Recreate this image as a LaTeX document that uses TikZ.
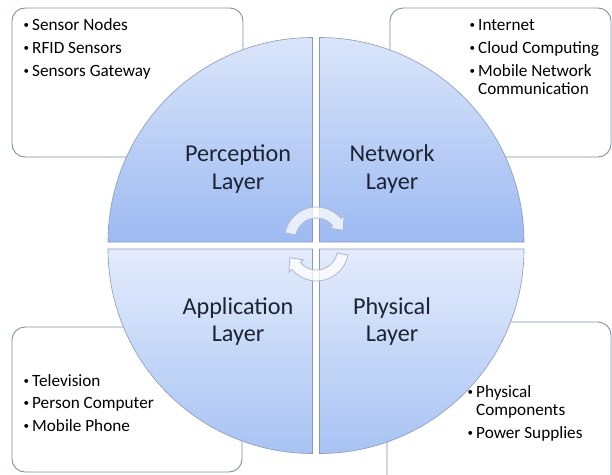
\documentclass[tikz,border=0pt]{standalone}
\usepackage{fontspec}
\setmainfont{Carlito}
\usetikzlibrary{positioning}
\definecolor{iotbox}{HTML}{7F8FAE}
\definecolor{iotedge}{HTML}{8A9AB8}
\definecolor{iottopA}{HTML}{DAE5FA}
\definecolor{iottopB}{HTML}{9DBAF2}
\definecolor{iotbotA}{HTML}{E4ECFC}
\definecolor{iotbotB}{HTML}{A8C3F3}
\definecolor{iotarrow}{HTML}{A9B8D2}
\definecolor{iottext}{HTML}{1C2433}
% small list bullet with a fixed gap before the text
\newcommand{\iotbul}{\makebox[8.5pt][l]{\raisebox{2pt}{\fontsize{11}{11}\selectfont\textbullet}}}

\begin{document}
\begin{tikzpicture}[
  x=1pt, y=-1pt,
  listbox/.style={draw=iotbox, line width=0.9pt, fill=white, rounded corners=13pt},
  upperquad/.style={draw=iotedge, line width=0.6pt, top color=iottopA, bottom color=iottopB},
  lowerquad/.style={draw=iotedge, line width=0.6pt, top color=iotbotA, bottom color=iotbotB},
  cyclearrow/.style={draw=iotarrow, line width=0.8pt, fill=white, fill opacity=0.75},
  layername/.style={align=center, text=iottext, font=\fontsize{24.2}{27.3}\selectfont},
  item/.style={anchor=base west, inner sep=0pt, text=black, font=\fontsize{17.2}{18}\selectfont},
]
\useasboundingbox (0,0) rectangle (612,474);

% Corner boxes with the bullet lists
\draw[listbox] (12,8) rectangle (243,157);
\draw[listbox] (390,8) rectangle (611,157);
\draw[listbox] (12,327) rectangle (242,472);
\draw[listbox] (387,322) rectangle (611,500);

% Four quarters of the layer circle
\path[upperquad] (312.5,242) -- ++(180:204.5) arc[start angle=180, end angle=270, radius=204.5] -- cycle;
\path[upperquad] (319.5,242) -- ++(270:204.5) arc[start angle=270, end angle=360, radius=204.5] -- cycle;
\path[lowerquad] (319.5,249) -- ++(0:204.5) arc[start angle=0, end angle=90, radius=204.5] -- cycle;
\path[lowerquad] (312.5,249) -- ++(90:204.5) arc[start angle=90, end angle=180, radius=204.5] -- cycle;

% Cycle arrows in the middle
\begin{scope}[shift={(316.5,239)}]
  \path[cyclearrow] (191:32) arc[start angle=191, end angle=320, radius=32]
    -- (320:36) -- (342:28) -- (320:17) -- (320:21)
    arc[start angle=320, end angle=191, radius=21] -- cycle;
\end{scope}
\begin{scope}[shift={(316.5,249)}]
  \path[cyclearrow] (11:32) arc[start angle=11, end angle=140, radius=32]
    -- (140:36) -- (162:28) -- (140:17) -- (140:21)
    arc[start angle=140, end angle=11, radius=21] -- cycle;
\end{scope}

% Layer names
\node[layername] (perception) at (238,169) {Perception\\Layer};
\node[layername] (network) at (392,169) {Network\\Layer};
\node[layername] (application) at (238,321.5) {Application\\Layer};
\node[layername] (physical) at (392,321.5) {Physical\\Layer};

% Perception layer items
\node[item] (per1) at (23.5,30.5) {\iotbul Sensor Nodes};
\node[item] (per2) at (23.5,53.3) {\iotbul RFID Sensors};
\node[item] (per3) at (23.5,76) {\iotbul Sensors Gateway};

% Network layer items
\node[item] (net1) at (469.5,30.5) {\iotbul Internet};
\node[item] (net2) at (469.5,53.3) {\iotbul Cloud Computing};
\node[item] (net3) at (469.5,76) {\iotbul Mobile Network};
\node[item] (net4) at (469.5,94) {\phantom{\iotbul}Communication};

% Application layer items
\node[item] (app1) at (23.5,386) {\iotbul Television};
\node[item] (app2) at (23.5,408.5) {\iotbul Person Computer};
\node[item] (app3) at (23.5,431) {\iotbul Mobile Phone};

% Physical layer items
\node[item] (phy1) at (467.5,397) {\iotbul Physical};
\node[item] (phy2) at (467.5,415) {\phantom{\iotbul}Components};
\node[item] (phy3) at (467.5,438) {\iotbul Power Supplies};

\end{tikzpicture}
\end{document}
